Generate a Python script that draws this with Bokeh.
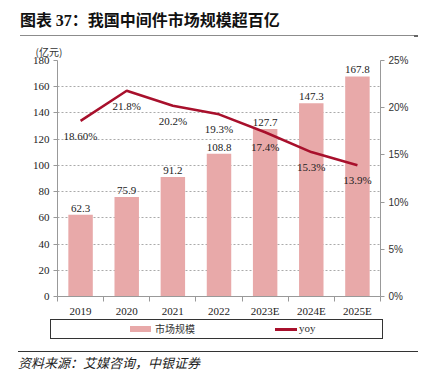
from bokeh.plotting import figure
from bokeh.models import (ColumnDataSource, Range1d, LinearAxis, FixedTicker, Title, Div)
from bokeh.layouts import column
from bokeh.core.properties import value
from bokeh.embed import file_html
from bokeh.resources import INLINE

years = ["2019", "2020", "2021", "2022", "2023E", "2024E", "2025E"]
market = [62.3, 75.9, 91.2, 108.8, 127.7, 147.3, 167.8]
yoy = [18.6, 21.8, 20.2, 19.3, 17.4, 15.3, 13.9]
yoy_labels = ["18.60%", "21.8%", "20.2%", "19.3%", "17.4%", "15.3%", "13.9%"]
left_ticks = [0, 20, 40, 60, 80, 100, 120, 140, 160, 180]
right_ticks = [0, 5, 10, 15, 20, 25]
series_names = ["市场规模", "yoy"]

idx = list(range(len(years)))
src = ColumnDataSource(dict(x=idx, m=market, ml=[f"{v:.1f}" for v in market],
                            yoy=yoy, yl=yoy_labels))

SERIF = "Liberation Serif"
CJK = "Noto Sans CJK SC"
BAR = "#E8A9A9"
LINE = "#A8102C"
AXIS = "#999999"

p = figure(width=406, height=284, output_backend="svg", toolbar_location=None,
           x_range=Range1d(-0.5, 6.5), y_range=Range1d(0, 180),
           min_border_left=49, min_border_right=34, min_border_top=25, min_border_bottom=21,
           margin=0)
p.outline_line_color = None
p.extra_y_ranges = {"pct": Range1d(0, 25)}

bars = p.vbar(x="x", top="m", width=0.53, source=src, fill_color=BAR, line_color=None)
ln = p.line(x="x", y="yoy", y_range_name="pct", source=src, line_color=LINE, line_width=2.5)

p.text(x="x", y="m", text="ml", source=src, text_align="center", text_baseline="bottom",
       y_offset=-3, text_font=value(SERIF), text_font_size="11px", text_color="#222222")
p.text(x="x", y="yoy", text="yl", source=src, y_range_name="pct", text_align="center",
       text_baseline="middle", y_offset=15, text_font=value(SERIF), text_font_size="11px",
       text_color="#222222")

# x axis
xa = p.xaxis[0]
xa.ticker = FixedTicker(ticks=idx, minor_ticks=[i - 0.5 for i in range(len(years) + 1)])
xa.major_label_overrides = {i: y for i, y in enumerate(years)}
xa.major_tick_line_color = None
xa.major_tick_out = 0
xa.major_tick_in = 0
xa.minor_tick_out = 5
xa.minor_tick_in = 0
xa.minor_tick_line_color = AXIS
xa.axis_line_color = AXIS
xa.major_label_text_font = SERIF
xa.major_label_text_font_size = "11px"
xa.major_label_text_color = "#222222"
xa.major_label_standoff = 3

# left axis
ya = p.yaxis[0]
ya.ticker = FixedTicker(ticks=left_ticks)
ya.axis_line_color = AXIS
ya.major_tick_line_color = AXIS
ya.major_tick_out = 4
ya.major_tick_in = 0
ya.minor_tick_line_color = None
ya.major_label_text_font = SERIF
ya.major_label_text_font_size = "11px"
ya.major_label_text_color = "#222222"
ya.major_label_standoff = 4

# right axis
ra = LinearAxis(y_range_name="pct", ticker=FixedTicker(ticks=right_ticks))
ra.major_label_overrides = {t: f"{t}%" for t in right_ticks}
ra.axis_line_color = AXIS
ra.major_tick_line_color = AXIS
ra.major_tick_out = 4
ra.major_tick_in = 0
ra.minor_tick_line_color = None
ra.major_label_text_font = "Liberation Sans"
ra.major_label_text_font_size = "10px"
ra.major_label_text_color = "#333333"
ra.major_label_standoff = 4
p.add_layout(ra, "right")

p.xgrid.visible = False
p.ygrid.ticker = FixedTicker(ticks=left_ticks)
p.ygrid.grid_line_dash = "2 2"
p.ygrid.grid_line_color = "#aaaaaa"

p.add_layout(Title(text="(亿元)", align="left", offset=-22, standoff=3, text_font=CJK,
                   text_font_size="10px", text_font_style="normal", text_color="#333333"),
             "above")

title_div = Div(
    text=('<div style="margin-left:12px;width:398px;padding-top:2px;padding-bottom:4px;'
          'border-bottom:2px solid #666;font-family:\'Noto Sans CJK SC\';font-weight:bold;'
          'font-size:16px;line-height:20px;color:#111;">图表 '
          '<span style="font-family:\'Liberation Serif\'">37</span>：我国中间件市场规模超百亿</div>'),
    width=406, height=28, margin=0)

legend_div = Div(
    text=('<div style="margin-left:42px;width:333px;height:20px;border:1.5px solid #333;'
          'display:flex;align-items:center;justify-content:flex-start;font-size:10px;color:#333;">'
          f'<span style="display:inline-block;margin-left:79px;width:21px;height:6px;background:{BAR};"></span>'
          f'<span style="margin-left:4px;font-family:\'Noto Sans CJK SC\';">{series_names[0]}</span>'
          f'<span style="display:inline-block;margin-left:80px;width:22px;height:3px;background:{LINE};"></span>'
          f'<span style="margin-left:2px;font-family:\'Liberation Serif\';font-size:11px;">{series_names[1]}</span>'
          '</div>'),
    width=406, height=28, margin=0)

src_div = Div(
    text=('<div style="margin-left:10px;width:400px;margin-top:4px;border-top:1.5px solid #333;'
          'padding-top:3px;font-family:\'Noto Sans CJK SC\';font-style:italic;font-size:13px;'
          'line-height:16px;color:#222;">资料来源：艾媒咨询，中银证券</div>'),
    width=406, height=28, margin=0)

layout = column(title_div, p, legend_div, src_div, spacing=0, margin=(7, 0, 0, 8))
open("out.html", "w").write(file_html(layout, INLINE))
